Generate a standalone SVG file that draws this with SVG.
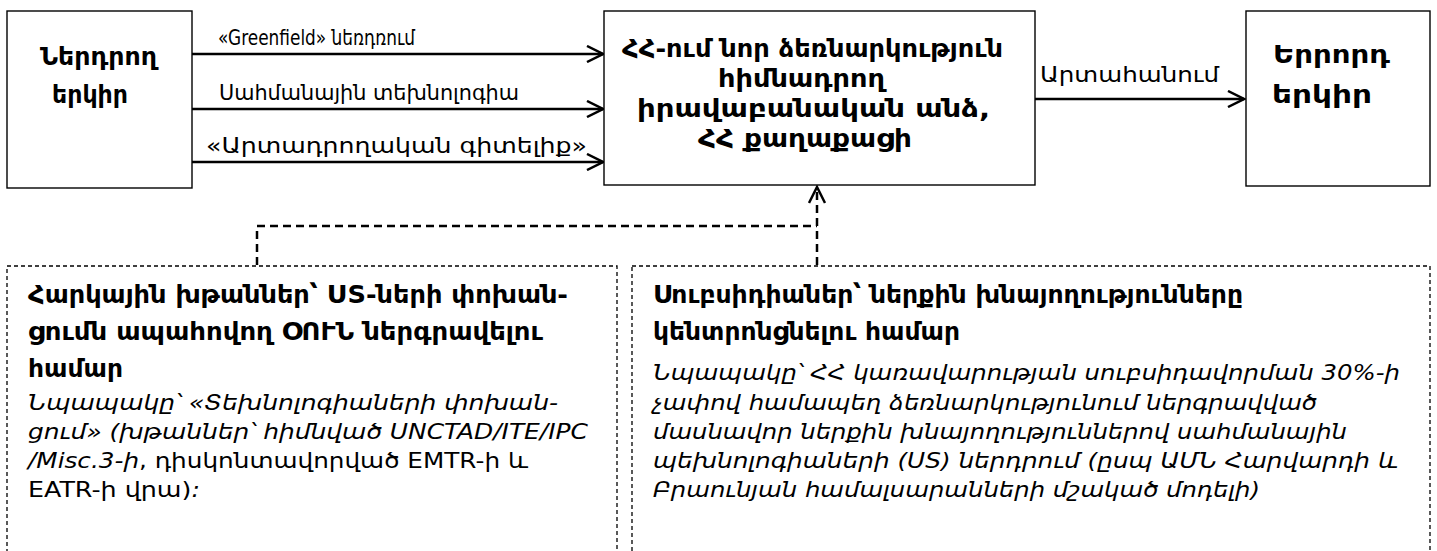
<svg xmlns="http://www.w3.org/2000/svg" width="1437" height="551" viewBox="0 0 1437 551">
  <style>
    text { font-family: "DejaVu Sans", "Noto Sans", sans-serif; fill: #000; }
    .node { fill: #fff; stroke: #000; stroke-width: 1.4; }
    .note { fill: #fff; stroke: #000; stroke-width: 1.3; stroke-dasharray: 4 3; }
    .title { font-size: 24px; font-weight: bold; }
    .lbl { font-size: 21px; }
    .bold { font-size: 24px; font-weight: bold; }
    .it { font-size: 22px; font-style: italic; }
    .up { font-style: normal; }
    .flow { stroke: #000; stroke-width: 2.5; fill: none; }
    .link { stroke: #000; stroke-width: 2.5; fill: none; stroke-dasharray: 8 5; }
  </style>
  <defs>
    <marker id="open" viewBox="0 0 20 18" refX="18" refY="9" markerWidth="20" markerHeight="18" markerUnits="userSpaceOnUse" orient="auto">
      <path d="M2,1 L18,9 L2,17" fill="none" stroke="#000" stroke-width="2.5"/>
    </marker>
  </defs>

  <rect width="1437" height="551" fill="#fff"/>

  <!-- connectors -->
  <g id="connectors">
    <line class="flow" x1="192" y1="54" x2="603" y2="54" marker-end="url(#open)"/>
    <line class="flow" x1="192" y1="109" x2="603" y2="109" marker-end="url(#open)"/>
    <line class="flow" x1="192" y1="162" x2="603" y2="162" marker-end="url(#open)"/>
    <line class="flow" x1="1035" y1="99" x2="1244" y2="99" marker-end="url(#open)"/>
    <path class="link" d="M257,265 V226 H817"/>
    <line class="link" x1="817" y1="265" x2="817" y2="187" marker-end="url(#open)"/>
    <text class="lbl" x="218" y="45" textLength="197" lengthAdjust="spacingAndGlyphs">«Greenfield» նեռդռում</text>
    <text class="lbl" x="219" y="100" textLength="300" lengthAdjust="spacingAndGlyphs">Սահմանային տեխնոլոգիա</text>
    <text class="lbl" x="206" y="153" textLength="381" lengthAdjust="spacingAndGlyphs">«Արտադրողական գիտելիք»</text>
    <text class="lbl" x="1040" y="82" textLength="179" lengthAdjust="spacingAndGlyphs">Արտահանում</text>
  </g>

  <!-- investing country -->
  <g id="investor">
    <rect class="node" x="7" y="11" width="185" height="177"/>
    <text class="title" x="40" y="65" textLength="117" lengthAdjust="spacingAndGlyphs">Ներդրող</text>
    <text class="title" x="52" y="103" textLength="76" lengthAdjust="spacingAndGlyphs">երկիր</text>
  </g>

  <!-- legal entity founding an enterprise -->
  <g id="enterprise">
    <rect class="node" x="604" y="11" width="431" height="174"/>
    <text class="title" x="622" y="57" textLength="381" lengthAdjust="spacingAndGlyphs">ՀՀ-ում նոր ձեռնարկություն</text>
    <text class="title" x="718" y="87" textLength="167" lengthAdjust="spacingAndGlyphs">հիմնադրող</text>
    <text class="title" x="637" y="117" textLength="353" lengthAdjust="spacingAndGlyphs">իրավաբանական անձ,</text>
    <text class="title" x="698" y="147" textLength="214" lengthAdjust="spacingAndGlyphs">ՀՀ քաղաքացի</text>
  </g>

  <!-- third country -->
  <g id="third">
    <rect class="node" x="1246" y="11" width="184" height="175"/>
    <text class="title" x="1273" y="63" textLength="117" lengthAdjust="spacingAndGlyphs">Երրորդ</text>
    <text class="title" x="1272" y="103" textLength="100" lengthAdjust="spacingAndGlyphs">երկիր</text>
  </g>

  <!-- tax incentives note -->
  <g id="tax-note">
    <rect class="note" x="7" y="266" width="610" height="300"/>
    <text class="bold" x="28" y="303" textLength="540" lengthAdjust="spacingAndGlyphs">Հարկային խթաններ՝ US-ների փոխան-</text>
    <text class="bold" x="28" y="340" textLength="515" lengthAdjust="spacingAndGlyphs">ցումն ապահովող ՕՈՒՆ ներգրավելու</text>
    <text class="bold" x="28" y="377" textLength="95" lengthAdjust="spacingAndGlyphs">համար</text>
    <text class="it" x="28" y="410" textLength="530" lengthAdjust="spacingAndGlyphs">Նպապակը՝ «Տեխնոլոգիաների փոխան-</text>
    <text class="it" x="28" y="439" textLength="560" lengthAdjust="spacingAndGlyphs">ցում» (խթաններ՝ հիմնված UNCTAD/ITE/IPC</text>
    <text class="it" x="28" y="468" textLength="500" lengthAdjust="spacingAndGlyphs">/Misc.3-ի<tspan class="up">, դիսկոնտավորված EMTR-ի և</tspan></text>
    <text class="it" x="28" y="497" textLength="172" lengthAdjust="spacingAndGlyphs"><tspan class="up">EATR-ի վրա)</tspan>:</text>
  </g>

  <!-- subsidies note -->
  <g id="subsidy-note">
    <rect class="note" x="632" y="266" width="798" height="300"/>
    <text class="bold" x="653" y="303" textLength="590" lengthAdjust="spacingAndGlyphs">Սուբսիդիաներ՝ ներքին խնայողությունները</text>
    <text class="bold" x="653" y="340" textLength="307" lengthAdjust="spacingAndGlyphs">կենտրոնցնելու համար</text>
    <text class="it" x="653" y="380" textLength="747" lengthAdjust="spacingAndGlyphs">Նպապակը՝ ՀՀ կառավարության սուբսիդավորման 30%-ի</text>
    <text class="it" x="653" y="410" textLength="664" lengthAdjust="spacingAndGlyphs">չափով համապեղ ձեռնարկությունում ներգրավված</text>
    <text class="it" x="653" y="439" textLength="694" lengthAdjust="spacingAndGlyphs">մասնավոր ներքին խնայողություններով սահմանային</text>
    <text class="it" x="653" y="468" textLength="745" lengthAdjust="spacingAndGlyphs">պեխնոլոգիաների (US) ներդրում (ըսպ ԱՄՆ Հարվարդի և</text>
    <text class="it" x="653" y="497" textLength="607" lengthAdjust="spacingAndGlyphs">Բրաունյան համալսարանների մշակած մոդելի)</text>
  </g>
</svg>
